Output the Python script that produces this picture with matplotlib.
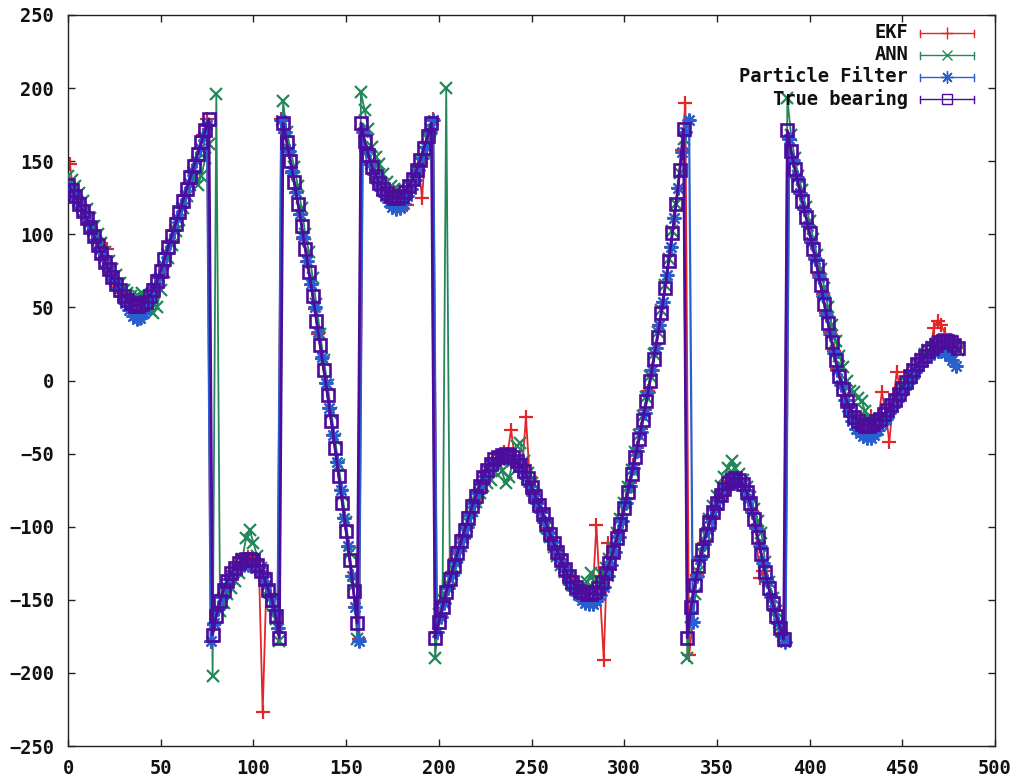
import numpy as np
import matplotlib
matplotlib.use('Agg')
import matplotlib.pyplot as plt

# bearing values (degrees)
# true bearing, sampled at even x = 0, 2, ..., 480
true_bearing = [
    134, 130, 126, 121, 116, 111, 105, 99, 93, 87,            # x=0..18
    81, 76, 71, 66, 62, 58, 55, 53, 51, 51,                   # x=20..38
    52, 54, 58, 62, 68, 75, 83, 91, 99, 107,                  # x=40..58
    115, 123, 131, 139, 147, 155, 163, 171, 179, -174,        # x=60..78
    -161, -151, -143, -137, -132, -128, -125, -123, -122, -122,  # x=80..98
    -123, -126, -130, -136, -143, -150, -161, -176, 176, 163,    # x=100..118
    150, 136, 121, 106, 90, 74, 58, 41, 24, 7,                # x=120..138
    -10, -28, -46, -65, -84, -103, -123, -144, -166, 176,     # x=140..158
    164, 154, 146, 140, 135, 131, 128, 126, 125, 125,         # x=160..178
    126, 129, 133, 138, 144, 151, 159, 167, 176, -176,        # x=180..198
    -165, -155, -145, -136, -127, -118, -110, -102, -94, -86,  # x=200..218
    -79, -72, -66, -61, -57, -54, -52, -51, -50, -51,         # x=220..238
    -52, -55, -58, -62, -67, -73, -79, -85, -91, -98,         # x=240..258
    -105, -111, -117, -123, -129, -134, -138, -141, -144, -145,  # x=260..278
    -146, -146, -145, -142, -138, -132, -125, -117, -108, -98,   # x=280..298
    -87, -76, -64, -52, -40, -27, -14, 0, 15, 30,             # x=300..318
    46, 63, 82, 101, 121, 144, 172, -176, -155, -140,         # x=320..338
    -127, -116, -106, -97, -90, -84, -78, -74, -70, -68,      # x=340..358
    -67, -68, -71, -76, -84, -95, -107, -119, -131, -142,     # x=360..378
    -152, -161, -169, -177, 171, 157, 145, 134, 123, 112,     # x=380..398
    101, 90, 78, 65, 52, 39, 26, 14, 3, -6,                   # x=400..418
    -14, -20, -25, -28, -30, -31, -31, -30, -28, -26,         # x=420..438
    -23, -20, -17, -13, -9, -5, -1, 3, 7, 11,                 # x=440..458
    14, 17, 20, 22, 24, 26, 27, 27, 26, 24,                   # x=460..478
    22,                                                       # x=480
]

# ANN estimate, even x = 0, 2, ..., 480
ann = [
    140, 137, 133, 128, 123, 117, 111, 106, 100, 94,
    88, 82, 76, 72, 67, 62, 60, 58, 57, 58,
    60, 52, 48, 46, 50, 62, 74, 84, 93, 102,
    110, 118, 126, 134, 140, 134, 140, 152, 162, -202,
    196, -158, -152, -146, -142, -137, -132, -122, -108, -102,
    -111, -120, -128, -135, -143, -152, -163, -178, 191, 170,
    158, 146, 133, 118, 100, 88, 70, 52, 32, 14,
    -3, -22, -40, -58, -78, -97, -118, -140, -177, 197,
    185, 172, 160, 153, 148, 141, 136, 133, 131, 130,
    128, 130, 133, 137, 143, 150, 157, 165, 172, -190,
    -160, -150, 200, -136, -129, -121, -113, -104, -97, -89,
    -83, -77, -72, -70, -68, -62, -57, -62, -70, -66,
    -55, -45, -43, -55, -63, -70, -78, -85, -92, -100,
    -107, -114, -120, -126, -131, -136, -140, -143, -143, -140,
    -138, -132, -138, -136, -133, -128, -122, -114, -104, -95,
    -84, -73, -61, -49, -37, -24, -11, 3, 18, 33,
    48, 65, 83, 102, 121, 142, 165, -190, -162, -146,
    -131, -118, -106, -95, -86, -79, -72, -66, -60, -55,
    -60, -64, -68, -73, -80, -88, -96, -104, -124, -138,
    -149, -158, -168, -178, 193, 168, 152, 140, 130, 119,
    109, 97, 86, 76, 63, 50, 38, 27, 17, 9,
    0, -7, -8, -12, -14, -21, -26, -29, -29, -27,
    -24, -21, -17, -13, -9, -5, -1, 3, 7, 11,
    15, 18, 21, 23, 25, 27, 28, 28, 27, 24,
    21,
]

# particle filter estimate, odd x = 1, 3, ..., 479
particle_filter = [
    132, 128, 123, 118, 113, 108, 102, 96, 90, 84,
    78, 73, 68, 63, 58, 53, 48, 44, 42, 43,
    46, 52, 58, 64, 71, 79, 87, 95, 103, 111,
    119, 127, 135, 143, 151, 159, 167, 175, -178, -166,
    -156, -148, -141, -136, -132, -129, -127, -126, -126, -127,
    -128, -130, -134, -140, -148, -157, -169, 178, 170, 157,
    143, 129, 114, 98, 82, 66, 50, 33, 16, -2,
    -19, -37, -56, -75, -94, -113, -134, -155, -178, 170,
    157, 148, 141, 135, 130, 126, 122, 119, 117, 118,
    121, 126, 131, 137, 144, 152, 160, 170, 178, -172,
    -162, -152, -142, -133, -124, -116, -108, -100, -92, -84,
    -77, -71, -65, -61, -58, -55, -54, -53, -53, -54,
    -56, -59, -62, -67, -72, -78, -84, -90, -97, -104,
    -110, -116, -122, -128, -134, -139, -143, -147, -150, -152,
    -153, -153, -151, -147, -141, -134, -126, -117, -107, -96,
    -84, -72, -60, -48, -35, -22, -8, 7, 22, 38,
    54, 72, 91, 111, 132, 156, 170, 178, -165, -134,
    -122, -112, -102, -94, -88, -82, -77, -73, -70, -69,
    -69, -71, -75, -81, -90, -101, -113, -125, -137, -148,
    -157, -166, -175, -179, 165, 151, 139, 128, 117, 106,
    95, 83, 71, 58, 45, 32, 19, 7, -3, -13,
    -21, -28, -33, -36, -38, -39, -39, -37, -34, -30,
    -26, -22, -18, -14, -10, -6, -2, 2, 6, 10,
    13, 16, 18, 19, 20, 20, 19, 17, 14, 10,
]

# EKF estimate, odd x = 1, 3, ..., 479
ekf = [
    148, 128, 124, 119, 113, 108, 102, 96, 90, 84,
    90, 74, 69, 64, 60, 56, 54, 52, 51, 52,
    54, 57, 61, 66, 72, 79, 87, 95, 103, 111,
    119, 127, 135, 143, 151, 159, 168, 179, -179, -167,
    -156, -147, -140, -134, -130, -126, -124, -122, -121, -122,
    -124, -128, -227, -140, -147, -157, -170, 179, 169, 156,
    142, 128, 113, 97, 81, 65, 49, 32, 15, -2,
    -19, -37, -56, -75, -94, -114, -134, -155, -177, 171,
    158, 149, 142, 137, 133, 129, 126, 124, 124, 125,
    127, 120, 135, 141, 147, 125, 163, 171, 179, -173,
    -161, -150, -141, -131, -122, -114, -106, -98, -90, -82,
    -75, -69, -63, -59, -55, -53, -51, -49, -50, -34,
    -53, -56, -60, -25, -66, -76, -82, -88, -95, -101,
    -108, -114, -120, -126, -131, -136, -140, -143, -145, -146,
    -146, -146, -99, -147, -191, -111, -121, -112, -103, -92,
    -81, -70, -58, -46, -33, -20, -7, 7, 22, 38,
    54, 72, 91, 111, 132, 158, 190, -188, -165, -133,
    -121, -111, -101, -93, -87, -81, -76, -72, -69, -67,
    -67, -69, -73, -79, -89, -100, -135, -130, -136, -147,
    -156, -165, -173, -179, 165, 151, 139, 128, 117, 106,
    95, 84, 72, 59, 46, 33, 20, 8, -2, -10,
    -17, -22, -27, -29, -31, -30, -24, -29, -27, -8,
    -22, -42, -15, 6, -7, -3, 1, 5, 9, 13,
    16, 19, 21, 36, 41, 38, 32, 27, 25, 22,
]

x_even = np.arange(len(true_bearing)) * 2
x_ann = np.arange(len(ann)) * 2
x_pf = np.arange(len(particle_filter)) * 2 + 1
x_ekf = np.arange(len(ekf)) * 2 + 1

RED = '#e4262a'
GREEN = '#23875a'
BLUE = '#2a5fcf'
PURPLE = '#4c0c9c'

font = {'family': 'DejaVu Sans Mono', 'weight': 'bold', 'size': 13.5}

fig = plt.figure(figsize=(10.24, 7.82), dpi=100)
ax = fig.add_axes([68 / 1024, 1 - 746 / 782, 927 / 1024, 731 / 782])

ax.plot(x_ekf, ekf, color=RED, lw=1.3, marker='+', ms=9.5, mew=1.6, zorder=2)
ax.plot(x_ann, ann, color=GREEN, lw=1.3, marker='x', ms=8, mew=1.6, zorder=3)
ax.plot(x_pf, particle_filter, color=BLUE, lw=1.6, marker=(8, 2, 0), ms=10, mew=1.6, zorder=4)
ax.plot(x_even, true_bearing, color=PURPLE, lw=2.0, marker='s', ms=8, mew=1.9,
        mfc='none', zorder=5)

ax.set_xlim(0, 500)
ax.set_ylim(-250, 250)
ax.set_xticks(np.arange(0, 501, 50))
ax.set_yticks(np.arange(-250, 251, 50))
ax.tick_params(direction='in', top=True, right=True, length=5, width=1, color='#222222')
ax.tick_params(axis='y', pad=10)
ax.tick_params(axis='x', pad=9)
for lab in ax.get_xticklabels() + ax.get_yticklabels():
    lab.set_fontfamily(font['family'])
    lab.set_fontweight(font['weight'])
    lab.set_fontsize(font['size'])
    lab.set_color('#111111')
for sp in ax.spines.values():
    sp.set_linewidth(1.0)
    sp.set_color('#222222')

# gnuplot-style key in the top right corner
key = [('EKF', RED, '+', 9), ('ANN', GREEN, 'x', 7.5),
       ('Particle Filter', BLUE, (8, 2, 0), 9), ('True bearing', PURPLE, 's', 7)]
x_text = (908 - 68) / 927
x0, x1 = (920 - 68) / 927, (974 - 68) / 927
cap = 3.5 / 731
for i, (name, col, mk, ms) in enumerate(key):
    yk = (746 - (33 + 22 * i)) / 731
    ax.text(x_text, yk, name, transform=ax.transAxes, ha='right', va='center',
            color='#111111', **font)
    ax.plot([x0, x1], [yk, yk], color=col, lw=1.0, transform=ax.transAxes, clip_on=False)
    ax.plot([x0, x0], [yk - cap, yk + cap], color=col, lw=1.0, transform=ax.transAxes)
    ax.plot([x1, x1], [yk - cap, yk + cap], color=col, lw=1.0, transform=ax.transAxes)
    ax.plot([(x0 + x1) / 2], [yk], color=col, marker=mk, ms=ms, mew=1.0,
            mfc='none', transform=ax.transAxes)

fig.savefig('out.png', dpi=100)
plt.close(fig)
